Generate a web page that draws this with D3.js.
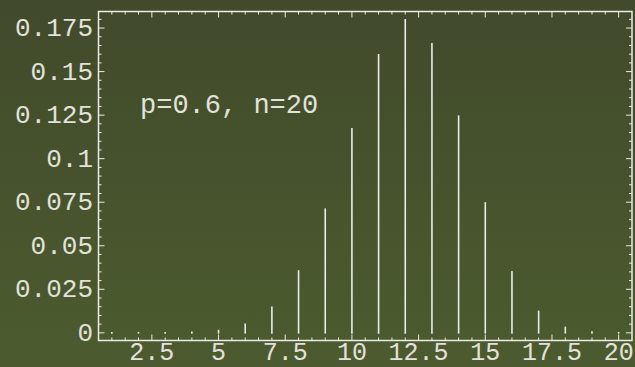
<!DOCTYPE html>
<html>
<head>
<meta charset="utf-8">
<script src="https://cdn.jsdelivr.net/npm/d3@7"></script>
<style>
  html, body { margin: 0; padding: 0; background: #464f2d; }
  svg { display: block; }
</style>
</head>
<body>
<svg id="chart" width="635" height="367"></svg>
<script>
// Binomial probabilities P(X = k), p = 0.6, n = 20
const ks = [1, 2, 3, 4, 5, 6, 7, 8, 9, 10, 11, 12, 13, 14, 15, 16, 17, 18, 19, 20];
const probs = [0.0000003, 0.000005, 0.00004, 0.00027, 0.0013, 0.0049, 0.0146, 0.0355,
               0.0710, 0.1171, 0.1597, 0.1797, 0.1659, 0.1244, 0.0746, 0.0350,
               0.0123, 0.0031, 0.0005, 0.00004];
const xTickLabels = ["2.5", "5", "7.5", "10", "12.5", "15", "17.5", "20"];
const yTickLabels = ["0", "0.025", "0.05", "0.075", "0.1", "0.125", "0.15", "0.175"];
const note = "p=0.6, n=20";

const W = 635, H = 367;
const frameL = 98.5, frameR = 632, frameT = 11.5, frameB = 340.5;
const fg = "#ecece6";
const textFg = "#e2e2da";
const font = "'Liberation Mono', 'DejaVu Sans Mono', monospace";

const svg = d3.select("#chart");

const defs = svg.append("defs");
const grad = defs.append("linearGradient").attr("id", "bg")
  .attr("x1", 0).attr("y1", 0).attr("x2", 0).attr("y2", 1);
grad.append("stop").attr("offset", "0%").attr("stop-color", "#414a2b");
grad.append("stop").attr("offset", "100%").attr("stop-color", "#4c5b2f");
svg.append("rect").attr("width", W).attr("height", H).attr("fill", "url(#bg)");

const x = d3.scaleLinear().domain([0.5, 20.5]).range([frameL, frameR]);
const y = d3.scaleLinear().domain([-0.0044, 0.1845]).range([frameB, frameT]);

// stems
svg.append("g").selectAll("line").data(ks.map((k, i) => [k, probs[i]])).join("line")
  .attr("x1", d => x(d[0])).attr("x2", d => x(d[0]))
  .attr("y1", y(0)).attr("y2", d => y(d[1]))
  .attr("stroke", fg).attr("stroke-width", 1.6).attr("stroke-linecap", "square");

// frame
svg.append("rect")
  .attr("x", frameL).attr("y", frameT).attr("width", frameR - frameL).attr("height", frameB - frameT)
  .attr("fill", "none").attr("stroke", fg).attr("stroke-width", 1.5);

const xMajor = xTickLabels.map(Number);
const xMinor = d3.range(1, 41).map(i => i * 0.5).filter(v => !xMajor.includes(v));
const yMajor = yTickLabels.map(Number);
const yMinor = d3.range(0, 37).map(i => +(i * 0.005).toFixed(3)).filter(v => !yMajor.some(m => Math.abs(m - v) < 1e-9));

const ticks = svg.append("g").attr("stroke", fg).attr("stroke-width", 1);
function hTicks(vals, len) {
  vals.forEach(v => {
    ticks.append("line").attr("x1", x(v)).attr("x2", x(v)).attr("y1", frameB).attr("y2", frameB - len);
    ticks.append("line").attr("x1", x(v)).attr("x2", x(v)).attr("y1", frameT).attr("y2", frameT + len);
  });
}
function vTicks(vals, len) {
  vals.forEach(v => {
    ticks.append("line").attr("y1", y(v)).attr("y2", y(v)).attr("x1", frameL).attr("x2", frameL + len);
    ticks.append("line").attr("y1", y(v)).attr("y2", y(v)).attr("x1", frameR).attr("x2", frameR - len);
  });
}
hTicks(xMajor, 6); hTicks(xMinor, 3);
vTicks(yMajor, 6); vTicks(yMinor, 3);

// tick labels
svg.append("g").selectAll("text").data(xTickLabels).join("text")
  .attr("x", d => x(+d)).attr("y", 359.5)
  .attr("text-anchor", "middle")
  .attr("font-family", font).attr("font-size", 25).attr("fill", textFg)
  .text(d => d);

svg.append("g").selectAll("text").data(yTickLabels).join("text")
  .attr("x", 93).attr("y", d => y(+d) + 8)
  .attr("text-anchor", "end")
  .attr("font-family", font).attr("font-size", 26).attr("fill", textFg)
  .text(d => d);

svg.append("text")
  .attr("x", 140).attr("y", 113)
  .attr("font-family", font).attr("font-size", 27).attr("fill", textFg)
  .text(note);
</script>
</body>
</html>
